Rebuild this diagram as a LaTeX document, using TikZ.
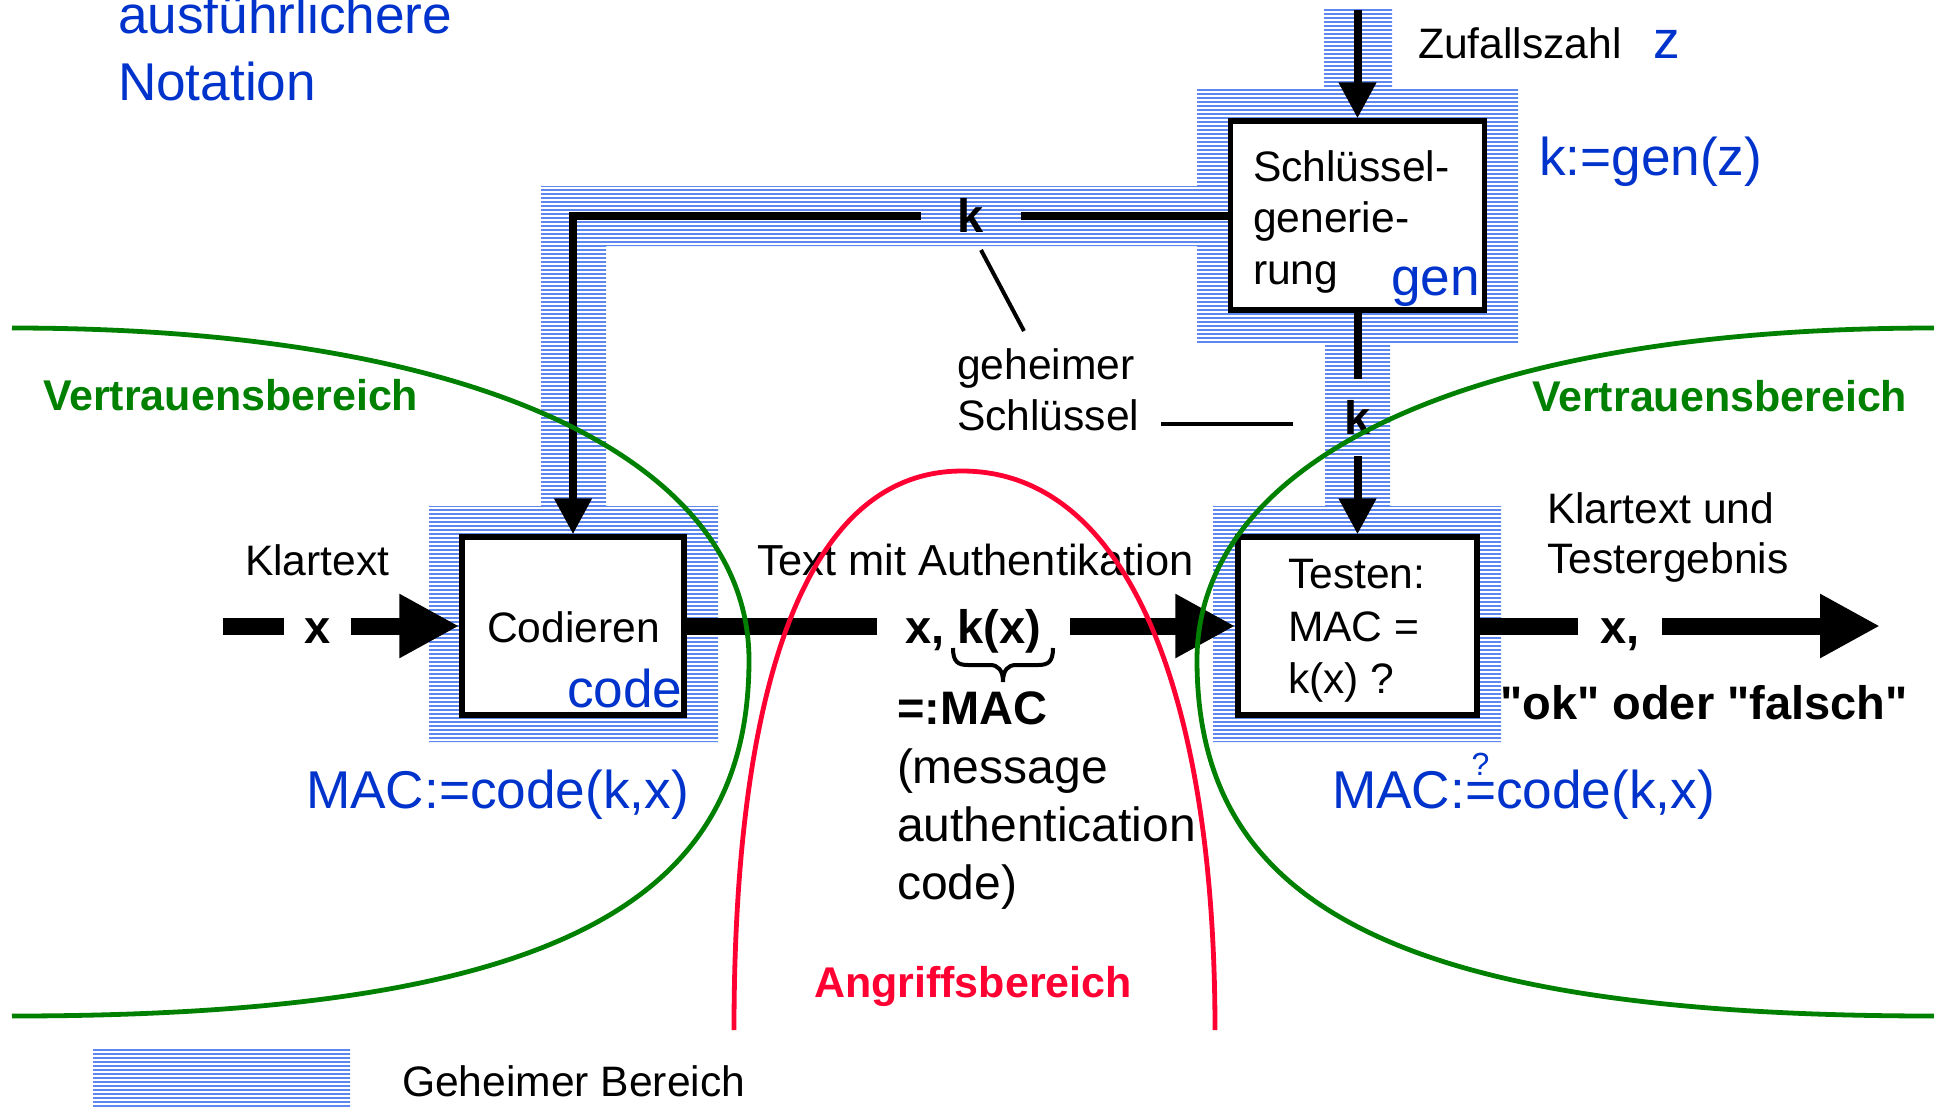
\documentclass[tikz,border=0pt]{standalone}
\usepackage{fontspec}
\setmainfont{Liberation Sans}[Ligatures=TeXOff]
\usetikzlibrary{arrows.meta,patterns.meta}

\definecolor{notblue}{RGB}{0,51,204}
\definecolor{hatchblue}{RGB}{95,135,240}
\definecolor{trustgreen}{RGB}{0,128,0}
\definecolor{attackred}{RGB}{255,0,51}

% "=" with a small question mark on top
\newcommand\queq{\leavevmode\setbox0=\hbox{=}\rlap{\hbox to \wd0{\hss\raisebox{16.5pt}{\fontsize{16}{16}\selectfont ?}\hss}}\box0}

\tikzset{
  lbl/.style={inner sep=0pt, outer sep=0pt, anchor=base west, font=\fontsize{21.3}{26}\selectfont},
  lblmid/.style={lbl, font=\fontsize{24}{29}\selectfont},
  lblbold/.style={lbl, font=\fontsize{23.5}{29}\selectfont\bfseries},
  zonelbl/.style={lbl, font=\fontsize{21.5}{26}\selectfont\bfseries},
  notation/.style={lbl, text=notblue, font=\fontsize{26.6}{33}\selectfont},
  procbox/.style={draw, line width=2.75pt, fill=white, inner sep=0pt},
  secret/.style={pattern={Lines[angle=0,distance=2pt,line width=0.6pt]}, pattern color=hatchblue},
  keyline/.style={line width=4pt},
  keyarrow/.style={keyline, -{Triangle[length=18pt,width=18pt]}},
  flowline/.style={line width=8.5pt},
  flowarrow/.style={flowline, -{Triangle[length=30pt,width=30pt]}},
  gapnode/.style={inner sep=0pt, outer sep=0pt},
  zone/.style={line width=2.4pt},
  pointer/.style={line width=2pt},
}

\begin{document}
\begin{tikzpicture}[x=0.5pt, y=-0.5pt]
\useasboundingbox (0,0) rectangle (1934,1110);

% secret area (hatched)
\fill[secret] (429,506) rectangle (718,742)
  (541,186) rectangle (606,506)
  (541,186) rectangle (1197,246)
  (1197,88) rectangle (1518,343)
  (1324,9) rectangle (1392,88)
  (1325,343) rectangle (1390,506)
  (1213,506) rectangle (1501,742)
  (93,1049) rectangle (350,1107);

% processing boxes
\node[procbox, minimum width=111pt, minimum height=89pt] (cod) at (573,626) {};
\node[procbox, minimum width=119.5pt, minimum height=89pt] (test) at (1357.5,626) {};
\node[procbox, minimum width=127pt, minimum height=94.5pt] (gen) at (1357.5,215.5) {};

% key labels on the key paths
\node[gapnode, minimum width=50pt, font=\fontsize{23.5}{29}\selectfont\bfseries] (kk) at (971,215.5) {k};
\node[gapnode, minimum height=38.5pt, font=\fontsize{23.5}{29}\selectfont\bfseries] (k2) at (1357.5,417.5) {k};

% key distribution
\coordinate (zin) at (1357.5,10);
\draw[keyarrow] (zin) -- (zin |- gen.north);
\draw[keyline] (gen.west) -- (kk.east);
\draw[keyarrow] (kk.west) -| (cod.north);
\draw[keyline] (gen.south) -- (k2.north);
\draw[keyarrow] (k2.south) -- (test.north);

% message flow
\node[gapnode, anchor=base, minimum width=33.5pt, font=\fontsize{23.5}{29}\selectfont\bfseries] (xin) at (317.5,643) {x};
\node[gapnode, anchor=base, minimum width=96.5pt, font=\fontsize{23.5}{29}\selectfont\bfseries] (xk) at (973.5,643) {x, k(x)};
\node[gapnode, anchor=base, minimum width=42pt, font=\fontsize{23.5}{29}\selectfont\bfseries] (xo) at (1620,643) {x,};
\coordinate (xstart) at (223,626);
\coordinate (xend) at (1880,626);
\draw[flowline] (xstart) -- (xstart -| xin.west);
\draw[flowarrow] (xin.east |- cod.west) -- (cod.west);
\draw[flowline] (cod.east) -- (cod.east -| xk.west);
\draw[flowarrow] (xk.east |- test.west) -- (test.west);
\draw[flowline] (test.east) -- (test.east -| xo.west);
\draw[flowarrow] (xo.east |- test.east) -- (xend);

% brace under k(x)
\draw[pointer] (953,648) .. controls (953,662) and (958,665) .. (968,665) -- (990,665)
  .. controls (998,665) and (1003,670) .. (1003,682)
  .. controls (1003,670) and (1008,665) .. (1016,665) -- (1038,665)
  .. controls (1048,665) and (1053,662) .. (1053,648);

% texts
\node[notation] (ausf) at (118,33) {ausführlichere};
\node[notation] (notat) at (118,100) {Notation};
\node[lbl] (zuf) at (1418,58) {Zufallszahl};
\node[notation] (zvar) at (1653,58) {z};
\node[notation] (kgen) at (1539,175) {k:=gen(z)};
\node[lbl] (s1) at (1253,181) {Schlüssel-};
\node[lbl] (s2) at (1253,232) {generie-};
\node[lbl] (s3) at (1253,284) {rung};
\node[notation] (gentag) at (1391,295) {gen};

\node[lbl] (geh1) at (957,379) {geheimer};
\node[lbl] (geh2) at (957,430) {Schlüssel};
\coordinate (p1) at (981,250);
\coordinate (p2) at (1024,331);
\coordinate (p3) at (1161,424);
\coordinate (p4) at (1293,424);
\draw[pointer] (p1) -- (p2);
\draw[pointer] (p3) -- (p4);

\node[lbl] (klar) at (245,575) {Klartext};
\node[lbl, font=\fontsize{21.7}{26}\selectfont] (tma) at (757,575) {Text mit Authentikation};
\node[lbl] (klu1) at (1547,523) {Klartext und};
\node[lbl] (klu2) at (1547,573) {Testergebnis};

\node[lbl] (codt) at (487,642) {Codieren};
\node[notation] (codtag) at (567,707) {code};
\node[lbl] (t1) at (1288,588) {Testen:};
\node[lbl] (t2) at (1288,641) {MAC =};
\node[lbl] (t3) at (1288,693) {k(x) ?};

\node[lblbold] (macdef) at (897,724) {=:MAC};
\node[lblmid] (m1) at (897,783) {(message};
\node[lblmid] (m2) at (897,841) {authentication};
\node[lblmid] (m3) at (897,899) {code)};

\node[lblbold] (okf) at (1500,719) {"ok" oder "falsch"};
\node[notation] (macl) at (306,808) {MAC:=code(k,x)};
\node[notation] (macr) at (1332,808) {MAC:\queq code(k,x)};

\node[zonelbl, text=trustgreen] (vl) at (43,410) {Vertrauensbereich};
\node[zonelbl, text=trustgreen] (vr) at (1532,411) {Vertrauensbereich};
\node[zonelbl, text=attackred] (ang) at (814,997) {Angriffsbereich};
\node[lbl] (leg) at (402,1096) {Geheimer Bereich};

% trust and attack zones
\draw[zone, trustgreen] (12,328) .. controls (500,328) and (749,470) .. (749,660)
  .. controls (749,900) and (560,1016) .. (12,1016);
\draw[zone, trustgreen] (1934,328) .. controls (1446,328) and (1197,470) .. (1197,660)
  .. controls (1197,900) and (1386,1016) .. (1934,1016);
\draw[zone, attackred] (734,1030) .. controls (734,700) and (800,471) .. (962,471)
  .. controls (1130,471) and (1215,700) .. (1215,1030);

\end{tikzpicture}
\end{document}
